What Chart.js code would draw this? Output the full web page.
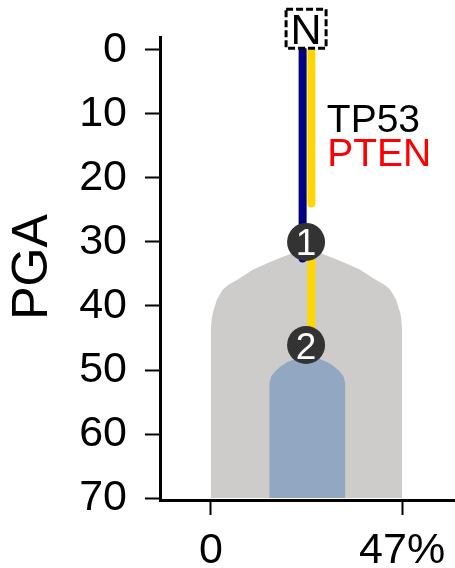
<!DOCTYPE html>
<html>
<head>
<meta charset="utf-8">
<script src="https://cdn.jsdelivr.net/npm/chart.js@4.4.1/dist/chart.umd.min.js"></script>
<style>
  html, body { margin: 0; padding: 0; background: #fff; }
  #wrap { width: 455px; height: 568px; }
</style>
</head>
<body>
<div id="wrap"><canvas id="pgaChart" width="455" height="568"></canvas></div>
<script>
// axis ticks
var yTicks = [0, 10, 20, 30, 40, 50, 60, 70];
var xTicks = [0, 47];
var xTickLabels = ["0", "47%"];

// outline of the grey clone (x = % cells, y = PGA)
var greyX = [0, 0, 0.2, 0.5, 1.0, 1.5, 2.2, 3.0, 4.5, 6.5, 8.5, 10.4, 13.3, 16.2, 19.5, 22.0, 23.5,
             25.0, 27.5, 30.8, 33.7, 36.6, 38.5, 40.5, 42.5, 44.0, 44.8, 45.5, 46.0, 46.5, 46.8, 47, 47, 0];
var greyY = [70, 43.7, 42.0, 41.0, 40.0, 39.0, 38.2, 37.4, 36.6, 35.9, 35.1, 34.3, 33.5, 32.7, 31.9, 31.4, 31.2,
             31.4, 31.9, 32.7, 33.5, 34.3, 35.1, 35.9, 36.6, 37.4, 38.2, 39.0, 40.0, 41.0, 42.0, 43.7, 70, 70];

// outline of the blue subclone
var blueX = [14.4, 14.4, 14.8, 15.8, 17.2, 18.7, 21.0, 23.7, 26.4, 28.7, 30.2, 31.6, 32.6, 33.0, 33.0, 14.4];
var blueY = [70, 52.0, 51.0, 50.2, 49.4, 48.8, 48.2, 48.0, 48.2, 48.8, 49.4, 50.2, 51.0, 52.0, 70, 70];

// mutation branches
var tp53X = [22.55, 22.55];
var tp53Y = [0, 32.6];
var ptenX1 = [24.7, 24.7];
var ptenY1 = [0, 24.0];
var ptenX2 = [24.7, 24.7];
var ptenY2 = [30, 45.5];

// numbered nodes
var nodeX = [23.4, 23.4];
var nodeY = [30.0, 46.1];
var nodeLabels = ["1", "2"];

// gene labels
var genes = ["TP53", "PTEN"];
var geneColors = ["#000000", "#ff0000"];
var geneX = [28.5, 28.6];
var geneY = [12.9, 18.2];

var FONT = "'Liberation Sans', Arial, sans-serif";

function pts(xs, ys) {
    return xs.map(function (x, i) { return { x: x, y: ys[i] }; });
}

// text bits drawn on top: node numbers, N box, gene names, axis title
var annotate = {
    id: "annotate",
    afterDatasetsDraw: function (chart) {
        var ctx = chart.ctx;
        var xs = chart.scales.x, ys = chart.scales.y;
        ctx.save();

        // numbers inside the nodes
        ctx.fillStyle = "#ffffff";
        ctx.font = "37px " + FONT;
        ctx.textAlign = "center";
        ctx.textBaseline = "alphabetic";
        nodeLabels.forEach(function (t, i) {
            ctx.fillText(t, xs.getPixelForValue(nodeX[i]), ys.getPixelForValue(nodeY[i]) + 13.5);
        });

        // "N" box at the root
        var nx = xs.getPixelForValue(23.4);
        var ny = ys.getPixelForValue(-3.3);
        ctx.fillStyle = "#ffffff";
        ctx.fillRect(nx - 20, ny - 19.5, 40, 39);
        ctx.setLineDash([7, 3]);
        ctx.lineWidth = 3;
        ctx.strokeStyle = "#000000";
        ctx.strokeRect(nx - 20, ny - 19.5, 40, 39);
        ctx.setLineDash([]);
        ctx.fillStyle = "#000000";
        ctx.font = "43px " + FONT;
        ctx.fillText("N", nx, ny + 15.5);

        // gene names
        ctx.font = "39px " + FONT;
        ctx.textAlign = "left";
        genes.forEach(function (g, i) {
            ctx.fillStyle = geneColors[i];
            ctx.fillText(g, xs.getPixelForValue(geneX[i]), ys.getPixelForValue(geneY[i]));
        });

        // y axis title
        ctx.translate(46.7, 267);
        ctx.rotate(-Math.PI / 2);
        ctx.fillStyle = "#000000";
        ctx.font = "50px " + FONT;
        ctx.textAlign = "center";
        ctx.fillText("PGA", 0, 0);
        ctx.restore();
    }
};

new Chart(document.getElementById("pgaChart").getContext("2d"), {
    type: "scatter",
    data: {
        datasets: [
            {   // nodes (listed first = drawn on top)
                data: pts(nodeX, nodeY),
                pointRadius: 19,
                pointBackgroundColor: "#333333",
                pointBorderWidth: 0,
                showLine: false
            },
            {
                data: pts(tp53X, tp53Y),
                showLine: true, borderColor: "#000080", borderWidth: 8,
                borderCapStyle: "round", pointRadius: 0
            },
            {
                data: pts(ptenX1, ptenY1),
                showLine: true, borderColor: "#ffd700", borderWidth: 8,
                borderCapStyle: "round", pointRadius: 0
            },
            {
                data: pts(ptenX2, ptenY2),
                showLine: true, borderColor: "#ffd700", borderWidth: 8,
                borderCapStyle: "round", pointRadius: 0
            },
            {
                data: pts(blueX, blueY),
                showLine: true, fill: "shape", backgroundColor: "#92a8c2",
                borderWidth: 0, pointRadius: 0, tension: 0
            },
            {
                data: pts(greyX, greyY),
                showLine: true, fill: "shape", backgroundColor: "#cdcccb",
                borderWidth: 0, pointRadius: 0, tension: 0
            }
        ]
    },
    options: {
        responsive: false,
        animation: false,
        events: [],
        layout: { autoPadding: false, padding: { top: 37, right: 0, left: 0, bottom: 0 } },
        plugins: {
            legend: { display: false },
            tooltip: { enabled: false }
        },
        scales: {
            x: {
                type: "linear",
                min: -12.5,
                max: 60,
                afterBuildTicks: function (scale) {
                    scale.ticks = xTicks.map(function (v) { return { value: v }; });
                },
                afterFit: function (scale) {
                    scale.height = 68;
                    scale.paddingLeft = 0;
                    scale.paddingRight = 0;
                },
                grid: {
                    drawOnChartArea: false, drawTicks: true,
                    tickLength: 15, tickWidth: 2, tickColor: "#000000"
                },
                border: { color: "#000000", width: 3 },
                ticks: {
                    color: "#000000",
                    font: { family: FONT, size: 43 },
                    padding: 10,
                    maxRotation: 0,
                    callback: function (v) { return xTickLabels[xTicks.indexOf(v)]; }
                }
            },
            y: {
                type: "linear",
                reverse: true,
                min: -2,
                max: 70.3,
                afterBuildTicks: function (scale) {
                    scale.ticks = yTicks.map(function (v) { return { value: v }; });
                },
                afterFit: function (scale) {
                    scale.width = 160;
                    scale.paddingTop = 0;
                    scale.paddingBottom = 0;
                },
                grid: {
                    drawOnChartArea: false, drawTicks: true,
                    tickLength: 15, tickWidth: 2, tickColor: "#000000"
                },
                border: { color: "#000000", width: 3 },
                ticks: {
                    color: "#000000",
                    font: { family: FONT, size: 43 },
                    padding: 18
                }
            }
        }
    },
    plugins: [annotate]
});
</script>
</body>
</html>
